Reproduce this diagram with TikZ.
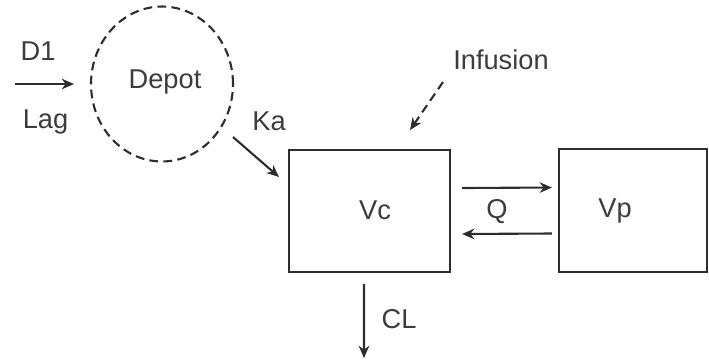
\documentclass[tikz,border=0pt]{standalone}
\usepackage{fontspec}
\setmainfont{Liberation Sans}
\usepackage{xcolor}
\usepackage{tikz}
\usetikzlibrary{positioning, arrows.meta, shapes.geometric}
\definecolor{inkgray}{RGB}{45, 45, 45}
\definecolor{textgray}{RGB}{60, 60, 60}

\tikzset{
  compbox/.style={draw=inkgray, line width=1.2pt, rectangle, inner sep=0pt},
  lbl/.style={text=textgray, anchor=base, inner sep=0pt, font=\fontsize{15.5}{18}\selectfont},
  flow/.style={draw=inkgray, line width=1.2pt, -{Stealth[length=7pt, width=6pt]}}
}

\begin{document}
\begin{tikzpicture}[x=0.02cm, y=-0.02cm]
\useasboundingbox (0,0) rectangle (709,360);
\node[ellipse, draw=inkgray, line width=1.2pt, dash pattern=on 5pt off 3pt,
  minimum width=2.84cm, minimum height=3.1cm, inner sep=0pt] (depot) at (162,84) {};
\node[lbl] (depotlabel) at (165,88) {Depot};
\node[compbox, minimum width=3.22cm, minimum height=2.44cm] (vc) at (369.5,211) {};
\node[compbox, minimum width=2.96cm, minimum height=2.46cm] (vp) at (633,210.5) {};
\node[lbl] (vclabel) at (375,219) {Vc};
\node[lbl] (vplabel) at (615,217) {Vp};
\node[lbl] (dlabel) at (38,60) {D1};
\node[lbl] (laglabel) at (45.5,128) {Lag};
\node[lbl] (kalabel) at (269,130) {Ka};
\node[lbl] (inflabel) at (501,69) {Infusion};
\node[lbl] (qlabel) at (497,218) {Q};
\node[lbl] (cllabel) at (399,328) {CL};
\coordinate (dosein) at (15,84);
\coordinate (doseout) at (74,84);
\coordinate (kain) at (233,137);
\coordinate (kaout) at (279,177);
\coordinate (infin) at (443,82);
\coordinate (infout) at (410,130);
\coordinate (clout) at (364,358);
\draw[flow] (dosein) -- (doseout);
\draw[flow] (kain) -- (kaout);
\draw[flow, dash pattern=on 5pt off 3pt] (infin) -- (infout);
\draw[flow] ([xshift=0.22cm, yshift=0.46cm]vc.east) -- ([xshift=-0.12cm, yshift=0.46cm]vp.west);
\draw[flow] ([xshift=-0.12cm, yshift=-0.46cm]vp.west) -- ([xshift=0.22cm, yshift=-0.46cm]vc.east);
\draw[flow] ([xshift=-0.11cm, yshift=-0.22cm]vc.south) -- (clout);
\end{tikzpicture}
\end{document}
